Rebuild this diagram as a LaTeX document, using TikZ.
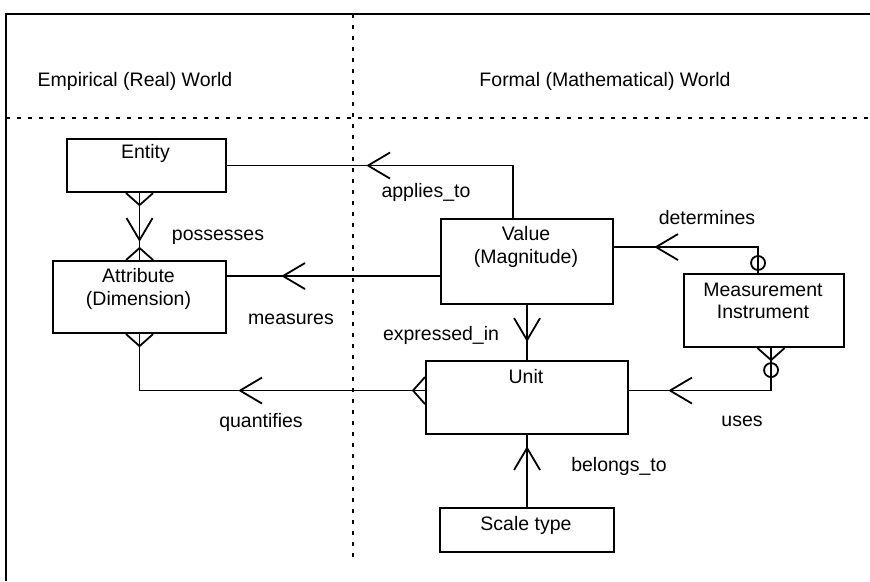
\documentclass[tikz,border=0pt]{standalone}
\usepackage{fontspec}
\setmainfont{Liberation Sans}
\usetikzlibrary{decorations.markings}

\tikzset{
  box/.style={draw, line width=2.1pt, anchor=north west, inner sep=0pt},
  txt/.style={anchor=base, inner sep=0pt, font=\fontsize{19.5}{23}\selectfont},
  conn/.style={draw, line width=1.8pt},
  divider/.style={line width=2.2pt, dash pattern=on 3.5pt off 7.5pt},
  mk/.style={line width=1.8pt, line join=round},
  % open chevron pointing along the path, tip at the given distance
  chev/.style={postaction={decorate, decoration={markings,
     mark=at position #1 with {\draw[mk] (-22pt,13pt) -- (0pt,0pt) -- (-22pt,-13pt);}}}},
  % crow's foot at the start / end of a connector
  crowA/.style={postaction={decorate, decoration={markings,
     mark=at position 0 with {\draw[mk] (0pt,13.5pt) -- (12pt,0pt) -- (0pt,-13.5pt);}}}},
  crowB/.style={postaction={decorate, decoration={markings,
     mark=at position 1 with {\draw[mk] (0pt,13.5pt) -- (-12pt,0pt) -- (0pt,-13.5pt);}}}},
  % optionality ring on a connector
  ring/.style={postaction={decorate, decoration={markings,
     mark=at position #1 with {\draw[mk] (0pt,0pt) circle (7pt);}}}},
}

\begin{document}
\begin{tikzpicture}[x=1pt, y=-1pt]
\useasboundingbox (0,0) rectangle (870,581);

% frame and world dividers
\draw[line width=2.4pt] (870,14) -- (6,14) -- (6,581);
\draw[divider] (353,14) -- (353,560);
\draw[divider] (6,118) -- (870,118);
\node[txt] (empirical) at (135,86) {Empirical (Real) World};
\node[txt] (formal) at (605,86) {Formal (Mathematical) World};

% entities
\node[box, minimum width=159pt, minimum height=53pt] (ent) at (66,138) {};
\node[box, minimum width=173pt, minimum height=72pt] (att) at (52,260) {};
\node[box, minimum width=172pt, minimum height=85pt] (val) at (440,218) {};
\node[box, minimum width=202pt, minimum height=73pt] (unit) at (425,360) {};
\node[box, minimum width=174pt, minimum height=44pt] (scale) at (439,507) {};
\node[box, minimum width=160pt, minimum height=73pt] (mi) at (683,273) {};

\node[txt] (entT) at (145.5,158) {Entity};
\node[txt] (attT1) at (138.5,282) {Attribute};
\node[txt] (attT2) at (138.5,305) {(Dimension)};
\node[txt] (valT1) at (526,240) {Value};
\node[txt] (valT2) at (526,263) {(Magnitude)};
\node[txt] (unitT) at (526,383) {Unit};
\node[txt] (scaleT) at (526,530) {Scale type};
\node[txt] (miT1) at (763,296) {Measurement};
\node[txt] (miT2) at (763,318) {Instrument};

% relationships
\path[conn, chev=197.5pt] ([xshift=-14pt]val.north) |- (ent.east);
\path[conn, crowA, crowB, chev=47pt] (ent.south -| att.north) -- (att.north);
\path[conn, chev=157pt] ([yshift=-14.5pt]val.west) -- ([yshift=-14.5pt]val.west -| att.east);
\path[conn, chev=35pt] (val.south) -- (unit.north);
\path[conn, crowA, crowB, chev=185pt] ([yshift=7pt]unit.west) -| (att.south);
\path[conn, chev=59pt] (scale.north) -- (unit.south);
\path[conn, ring=10pt, chev=128pt] ([xshift=-6pt]mi.north) |- ([yshift=14.5pt]val.east);
\path[conn, crowA, ring=22pt, chev=143.5pt] ([xshift=7pt]mi.south) |- ([yshift=7pt]unit.east);

% relationship names
\node[txt] (lApplies) at (426,197) {applies\_to};
\node[txt] (lDetermines) at (707,224) {determines};
\node[txt] (lPossesses) at (218,240) {possesses};
\node[txt] (lMeasures) at (291,324) {measures};
\node[txt] (lExpressed) at (441,340) {expressed\_in};
\node[txt] (lQuantifies) at (261,427) {quantifies};
\node[txt] (lUses) at (742,426) {uses};
\node[txt] (lBelongs) at (619,471) {belongs\_to};
\end{tikzpicture}
\end{document}
